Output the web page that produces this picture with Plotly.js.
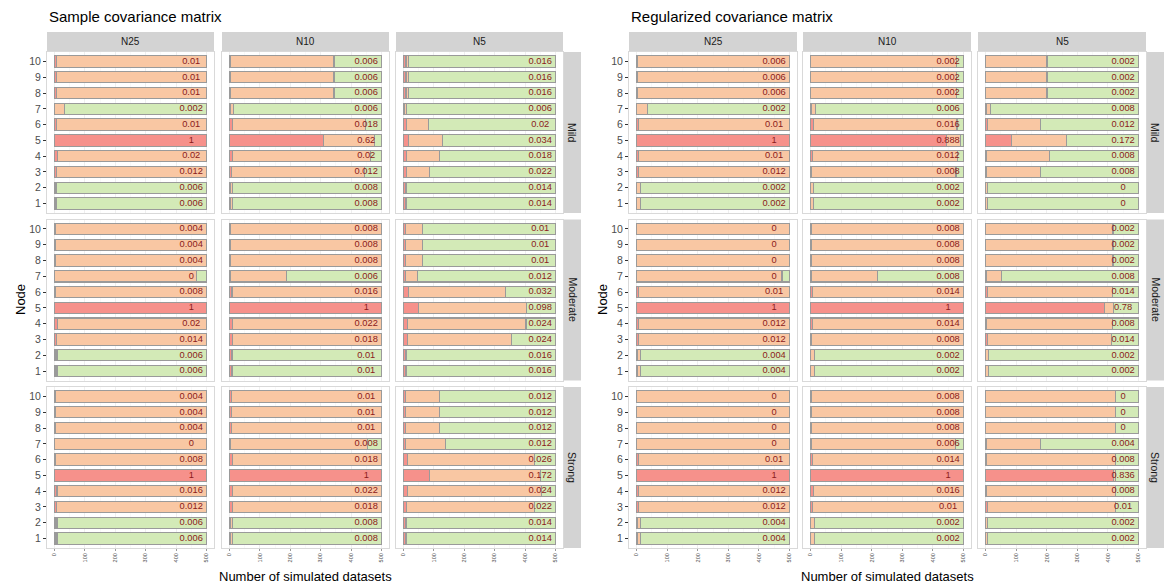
<!DOCTYPE html>
<html><head><meta charset="utf-8">
<script src="https://cdn.plot.ly/plotly-3.0.1.min.js"></script>
<style>html,body{margin:0;padding:0;background:#fff}#chart{width:1164px;height:584px}</style>
</head><body><div id="chart"></div>
<script>
// ---------- DATA ----------
const nodes = [1,2,3,4,5,6,7,8,9,10];
const methods = ['Sample covariance matrix','Regularized covariance matrix'];
const sizes = ['N25','N10','N5'];
const strengths = ['Mild','Moderate','Strong'];
const xTicks = [0,100,200,300,400,500];
const totalDatasets = 500;
const labelX = 450;

// proportion (red share, shown as label) and peach counts, nodes 1..10
// Sample covariance matrix
const S_Mild_N25_prop  = [0.006,0.006,0.012,0.02,1,0.01,0.002,0.01,0.01,0.01];
const S_Mild_N25_peach = [4,4,494,490,0,495,32,495,495,495];
const S_Mild_N10_prop  = [0.008,0.008,0.012,0.02,0.62,0.018,0.006,0.006,0.006,0.006];
const S_Mild_N10_peach = [6,6,437,455,168,439,9,341,341,341];
const S_Mild_N5_prop   = [0.014,0.014,0.022,0.018,0.034,0.02,0.006,0.016,0.016,0.016];
const S_Mild_N5_peach  = [3,3,74,109,111,72,7,9,9,9];

const S_Moderate_N25_prop  = [0.006,0.006,0.014,0.02,1,0.008,0,0.004,0.004,0.004];
const S_Moderate_N25_peach = [5,5,493,490,0,496,467,498,498,498];
const S_Moderate_N10_prop  = [0.01,0.01,0.018,0.022,1,0.016,0.006,0.008,0.008,0.008];
const S_Moderate_N10_peach = [5,5,491,489,0,492,185,496,496,496];
const S_Moderate_N5_prop   = [0.016,0.016,0.024,0.024,0.098,0.032,0.012,0.01,0.01,0.01];
const S_Moderate_N5_peach  = [2,2,343,391,356,321,40,57,57,57];

const S_Strong_N25_prop  = [0.006,0.006,0.012,0.016,1,0.008,0,0.004,0.004,0.004];
const S_Strong_N25_peach = [5,5,494,492,0,496,500,498,498,498];
const S_Strong_N10_prop  = [0.008,0.008,0.018,0.022,1,0.018,0.008,0.01,0.01,0.01];
const S_Strong_N10_peach = [6,6,491,489,0,491,449,495,495,495];
const S_Strong_N5_prop   = [0.014,0.014,0.022,0.024,0.172,0.026,0.012,0.012,0.012,0.012];
const S_Strong_N5_peach  = [4,4,420,441,365,418,131,111,111,111];

// Regularized covariance matrix
const R_Mild_N25_prop  = [0.002,0.002,0.012,0.01,1,0.01,0.002,0.006,0.006,0.006];
const R_Mild_N25_peach = [12,12,494,495,0,495,36,497,497,497];
const R_Mild_N10_prop  = [0.002,0.002,0.008,0.012,0.888,0.016,0.006,0.002,0.002,0.002];
const R_Mild_N10_peach = [9,9,472,475,46,471,12,476,476,476];
const R_Mild_N5_prop   = [0,0,0.008,0.008,0.172,0.012,0.008,0.002,0.002,0.002];
const R_Mild_N5_peach  = [7,7,177,206,178,175,11,200,200,200];

const R_Moderate_N25_prop  = [0.004,0.004,0.012,0.012,1,0.01,0,0,0,0];
const R_Moderate_N25_peach = [11,11,494,494,0,495,476,500,500,500];
const R_Moderate_N10_prop  = [0.002,0.002,0.008,0.014,1,0.014,0.008,0.008,0.008,0.008];
const R_Moderate_N10_peach = [11,11,496,493,0,493,216,496,496,496];
const R_Moderate_N5_prop   = [0.002,0.002,0.014,0.008,0.78,0.014,0.008,0.002,0.002,0.002];
const R_Moderate_N5_peach  = [9,9,405,412,28,408,49,416,416,416];

const R_Strong_N25_prop  = [0.004,0.004,0.012,0.012,1,0.01,0,0,0,0];
const R_Strong_N25_peach = [11,11,494,494,0,495,500,500,500,500];
const R_Strong_N10_prop  = [0.002,0.002,0.01,0.016,1,0.014,0.006,0.008,0.008,0.008];
const R_Strong_N10_peach = [11,11,495,492,0,493,471,496,496,496];
const R_Strong_N5_prop   = [0.002,0.002,0.01,0.008,0.836,0.008,0.004,0,0,0];
const R_Strong_N5_peach  = [6,6,420,421,7,421,177,425,425,425];

const panelData = {
  S: {
    Mild:     {N25:[S_Mild_N25_prop,S_Mild_N25_peach], N10:[S_Mild_N10_prop,S_Mild_N10_peach], N5:[S_Mild_N5_prop,S_Mild_N5_peach]},
    Moderate: {N25:[S_Moderate_N25_prop,S_Moderate_N25_peach], N10:[S_Moderate_N10_prop,S_Moderate_N10_peach], N5:[S_Moderate_N5_prop,S_Moderate_N5_peach]},
    Strong:   {N25:[S_Strong_N25_prop,S_Strong_N25_peach], N10:[S_Strong_N10_prop,S_Strong_N10_peach], N5:[S_Strong_N5_prop,S_Strong_N5_peach]}
  },
  R: {
    Mild:     {N25:[R_Mild_N25_prop,R_Mild_N25_peach], N10:[R_Mild_N10_prop,R_Mild_N10_peach], N5:[R_Mild_N5_prop,R_Mild_N5_peach]},
    Moderate: {N25:[R_Moderate_N25_prop,R_Moderate_N25_peach], N10:[R_Moderate_N10_prop,R_Moderate_N10_peach], N5:[R_Moderate_N5_prop,R_Moderate_N5_peach]},
    Strong:   {N25:[R_Strong_N25_prop,R_Strong_N25_peach], N10:[R_Strong_N10_prop,R_Strong_N10_peach], N5:[R_Strong_N5_prop,R_Strong_N5_peach]}
  }
};

// ---------- STYLE / LAYOUT ----------
const W = 1164, H = 584;
const FONT = 'Liberation Sans, Arial, Helvetica, sans-serif';
const RED = '#F6918B', PEACH = '#F9C7A3', GREEN = '#D3EAB7', EDGE = '#9A9A9A';
const STRIP = '#D3D3D3';
const colPx = [
  [[47,214],[222,389],[396,563]],
  [[629,797],[803,971],[978,1146]]
];
const rightStripPx = [[564,581],[1147,1164]];
const rowPx = [[52,213],[219.5,380.5],[387,548]];
const stripTop = [32,52];
const px = v => v / W;
const py = v => 1 - v / H;

const traces = [];
const layout = {
  width: W, height: H,
  margin: {l:0, r:0, t:0, b:0},
  paper_bgcolor: '#fff', plot_bgcolor: '#fff',
  showlegend: false, barmode: 'stack', bargap: 0,
  font: {family: FONT, color: '#1A1A1A'},
  annotations: [], shapes: []
};

const groupKeys = ['S','R'];
for (let g = 0; g < 2; g++) {
  for (let r = 0; r < 3; r++) {
    for (let c = 0; c < 3; c++) {
      const idx = g*9 + r*3 + c + 1;
      const xa = 'x' + (idx === 1 ? '' : idx);
      const ya = 'y' + (idx === 1 ? '' : idx);
      const xk = 'xaxis' + (idx === 1 ? '' : idx);
      const yk = 'yaxis' + (idx === 1 ? '' : idx);
      const [x0, x1] = colPx[g][c];
      const [y0, y1] = rowPx[r];
      layout[xk] = {
        domain: [px(x0), px(x1)], anchor: ya,
        range: [-25, 525], fixedrange: true,
        tickmode: 'array', tickvals: xTicks, ticktext: xTicks.map(String),
        showticklabels: r === 2, ticks: r === 2 ? 'outside' : '', ticklen: 2, tickwidth: 0.6, tickcolor: '#555',
        tickangle: -90, tickfont: {size: 5.5, color: '#4D4D4D', family: FONT},
        showgrid: true, gridcolor: '#EBEBEB', gridwidth: 0.8,
        minor: {tickmode: 'array', tickvals: [50,150,250,350,450], showgrid: true, gridcolor: '#F3F3F3', gridwidth: 0.5, ticks: ''},
        zeroline: false, showline: true, mirror: true, linecolor: '#D9D9D9', linewidth: 1
      };
      layout[yk] = {
        domain: [py(y1), py(y0)], anchor: xa,
        range: [0.4, 10.6], fixedrange: true,
        tickmode: 'array', tickvals: nodes, ticktext: nodes.map(String),
        showticklabels: c === 0, ticks: c === 0 ? 'outside' : '', ticklen: 3, tickwidth: 1, tickcolor: '#333',
        tickfont: {size: 10.5, color: '#4D4D4D', family: FONT},
        showgrid: false, zeroline: false, showline: true, mirror: true, linecolor: '#D9D9D9', linewidth: 1
      };
      const [prop, peach] = panelData[groupKeys[g]][strengths[r]][sizes[c]];
      const redCnt = prop.map(p => p * totalDatasets);
      const greenCnt = prop.map((p, i) => Math.max(0, totalDatasets - redCnt[i] - peach[i]));
      const common = {type: 'bar', orientation: 'h', y: nodes, xaxis: xa, yaxis: ya, width: 0.72, hoverinfo: 'skip'};
      traces.push(Object.assign({}, common, {x: redCnt, marker: {color: RED, line: {color: EDGE, width: 1.1}}}));
      traces.push(Object.assign({}, common, {x: peach, marker: {color: PEACH, line: {color: EDGE, width: 1.1}}}));
      traces.push(Object.assign({}, common, {x: greenCnt, marker: {color: GREEN, line: {color: EDGE, width: 1.1}}}));
      traces.push({
        type: 'scatter', mode: 'text', xaxis: xa, yaxis: ya,
        x: nodes.map(() => labelX), y: nodes, text: prop.map(String),
        textposition: 'middle center', cliponaxis: false, hoverinfo: 'skip',
        textfont: {size: 9.3, color: '#8B1A1A', family: FONT}
      });
      // top strip
      if (r === 0) {
        layout.shapes.push({type: 'rect', xref: 'paper', yref: 'paper', x0: px(x0), x1: px(x1), y0: py(stripTop[1]), y1: py(stripTop[0]), fillcolor: STRIP, line: {width: 0}, layer: 'below'});
        layout.annotations.push({xref: 'paper', yref: 'paper', x: px((x0 + x1) / 2), y: py((stripTop[0] + stripTop[1]) / 2), text: sizes[c], showarrow: false, xanchor: 'center', yanchor: 'middle', font: {size: 10, color: '#1A1A1A', family: FONT}});
      }
      // right strip
      if (c === 2) {
        const [sx0, sx1] = rightStripPx[g];
        layout.shapes.push({type: 'rect', xref: 'paper', yref: 'paper', x0: px(sx0), x1: px(sx1), y0: py(y1), y1: py(y0), fillcolor: STRIP, line: {width: 0}, layer: 'below'});
        layout.annotations.push({xref: 'paper', yref: 'paper', x: px((sx0 + sx1) / 2), y: py((y0 + y1) / 2), text: strengths[r], textangle: 90, showarrow: false, xanchor: 'center', yanchor: 'middle', font: {size: 10.5, color: '#1A1A1A', family: FONT}});
      }
    }
  }
  // group title, axis titles
  const gx0 = colPx[g][0][0], gx1 = colPx[g][2][1];
  layout.annotations.push({xref: 'paper', yref: 'paper', x: px(gx0), y: py(17), text: methods[g], showarrow: false, xanchor: 'left', yanchor: 'middle', font: {size: 15, color: '#000', family: FONT}});
  layout.annotations.push({xref: 'paper', yref: 'paper', x: px((gx0 + gx1) / 2), y: py(576), text: 'Number of simulated datasets', showarrow: false, xanchor: 'center', yanchor: 'middle', font: {size: 13, color: '#000', family: FONT}});
  layout.annotations.push({xref: 'paper', yref: 'paper', x: px(gx0 - 27), y: py(300), text: 'Node', textangle: -90, showarrow: false, xanchor: 'center', yanchor: 'middle', font: {size: 13, color: '#000', family: FONT}});
}

Plotly.newPlot('chart', traces, layout, {staticPlot: true, displayModeBar: false});
</script>
</body></html>
